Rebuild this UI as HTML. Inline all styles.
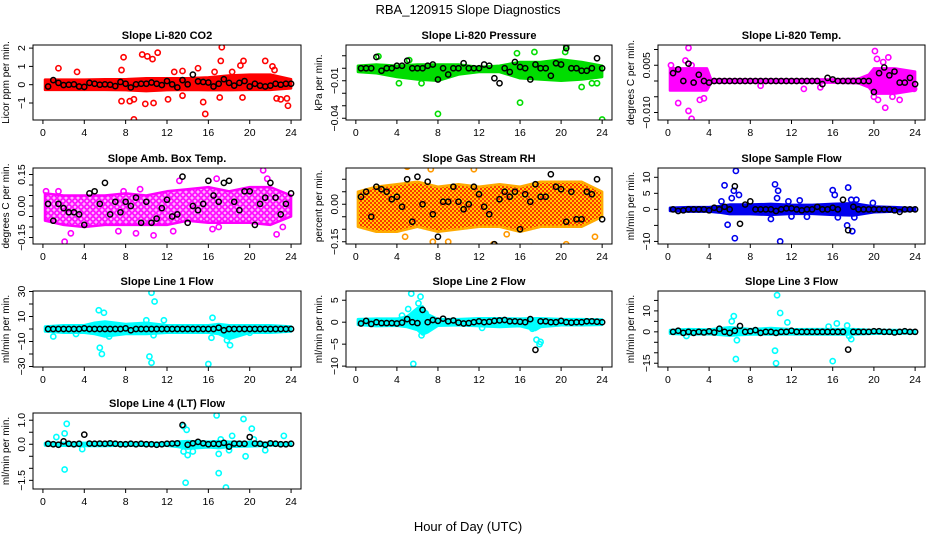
<!DOCTYPE html>
<html><head><meta charset="utf-8"><style>
html,body{margin:0;padding:0;background:#fff;}
svg{display:block;font-family:"Liberation Sans",Arial,sans-serif;}
</style></head><body>
<svg id="chart" width="936" height="540" viewBox="0 0 936 540">
<defs>
<pattern id="patAmb" width="6" height="6" patternUnits="userSpaceOnUse">
<rect width="6" height="6" fill="#ffb0ff"/>
<circle cx="3" cy="3" r="2.2" fill="none" stroke="#ff00ff" stroke-width="1.6"/>
</pattern>
<pattern id="patRH" width="4" height="4" patternUnits="userSpaceOnUse">
<rect width="4" height="4" fill="#ffcc00"/>
<rect width="2" height="2" fill="#ff3300"/>
<rect x="2" y="2" width="2" height="2" fill="#ff3300"/>
</pattern>
</defs>
<text x="468" y="14" text-anchor="middle" font-size="13">RBA_120915  Slope Diagnostics</text>
<text x="468" y="531" text-anchor="middle" font-size="13">Hour of Day (UTC)</text>
</svg>
<script>
// ---- data arrays (hours UTC, slope values) ----
const xTicks = [0,4,8,12,16,20,24];
const blackHours = [0.5,1,1.5,2,2.5,3,3.5,4,4.5,5,5.5,6,6.5,7,7.5,8,8.5,9,9.5,10,10.5,11,11.5,12,12.5,13,13.5,14,14.5,15,15.5,16,16.5,17,17.5,18,18.5,19,19.5,20,20.5,21,21.5,22,22.5,23,23.5,24];

const titles = ["Slope Li-820 CO2","Slope Li-820 Pressure","Slope Li-820 Temp.","Slope Amb. Box Temp.","Slope Gas Stream RH","Slope Sample Flow","Slope Line 1 Flow","Slope Line 2 Flow","Slope Line 3 Flow","Slope Line 4 (LT) Flow"];
const yLabels = ["Licor ppm per min.","kPa per min.","degrees C per min.","degrees C per min.","percent per min.","ml/min per min.","ml/min per min.","ml/min per min.","ml/min per min.","ml/min per min."];
const colors = ["#ff0000","#00dd00","#ff00ff","#ff00ff","#ff9900","#0000ee","#00ffff","#00ffff","#00ffff","#00ffff"];
const yLims = [[-1.93,2.17],[-0.0414,0.0186],[-0.01238,0.01143],[-0.181,0.181],[-0.159,0.145],[-10.8,12.9],[-30.4,30.4],[-10.2,7.1],[-16.8,19.5],[-1.86,1.30]];
const yTickVals = [[-1,0,1,2],[-0.04,-0.03,-0.02,-0.01,0,0.01],[-0.01,-0.005,0,0.005,0.01],[-0.15,-0.1,-0.05,0,0.05,0.1,0.15],[-0.15,-0.1,-0.05,0,0.05,0.1],[-10,-5,0,5,10],[-30,-20,-10,0,10,20,30],[-10,-5,0,5],[-15,-10,-5,0,5,10,15],[-1.5,-1,-0.5,0,0.5,1]];
const yTickLabels = [["−1","0","1","2"],["−0.04","","","−0.01","",""],["−0.010","","","0.005",""],["−0.15","","","0.00","","","0.15"],["−0.15","","","0.00","",""],["−10","","0","5","10"],["−30","","−10","","10","","30"],["−10","−5","0","5"],["−15","","","0","","10",""],["−1.5","","","0.0","","1.0"]];

const bandX = [[0.2,2,4,6,8,10,12,14,16,18,20,22,24],[0.2,2,4,6,8,10,12,14,16,18,20,22,24],[0.2,2,3.8,4.2,8,12,16,18.5,19.5,20,22,24],[0.2,2,4,6,8,10,12,14,16,18,20,22,24],[0.2,2,4,6,8,10,12,14,16,18,20,22,24],[0.2,2,4,5,6,8,10,12,14,16,18,20,22,24],[0.2,2,4,5,6,7,8,10,12,14,16,17,18,20,22,24],[0.2,2,4,5,6,6.5,7,8,10,12,14,16,17.5,18,20,22,24],[0.2,2,4,6,8,10,12,14,16,18,20,22,24],[0.2,2,4,6,8,10,12,13,14,16,17,18,20,22,24]];
const bandLo = [[-0.28,-0.28,-0.28,-0.28,-0.3,-0.35,-0.3,-0.28,-0.3,-0.3,-0.28,-0.28,-0.2],[-0.003,-0.004,-0.007,-0.009,-0.01,-0.005,-0.003,-0.003,-0.008,-0.009,-0.01,-0.009,-0.007],[-0.003,-0.003,-0.003,-0.0005,-0.0005,-0.0005,-0.0005,-0.0007,-0.002,-0.004,-0.004,-0.003],[-0.07,-0.09,-0.1,-0.09,-0.09,-0.09,-0.09,-0.07,-0.08,-0.08,-0.08,-0.09,-0.05],[-0.09,-0.11,-0.11,-0.09,-0.11,-0.1,-0.09,-0.09,-0.11,-0.09,-0.09,-0.09,-0.05],[-0.5,-0.7,-0.7,-1,-1.5,-1.5,-1.7,-1.4,-1.4,-1.7,-1.9,-0.9,-0.7,-0.4],[-2,-3,-3,-4,-6,-5,-4,-4,-3,-3,-3,-4,-8,-3,-3,-2],[-0.6,-0.9,-0.8,-1.1,-1.8,-2.8,-2.3,-0.8,-0.7,-0.9,-1.1,-0.9,-1.8,-1.1,-0.7,-0.7,-0.6],[-0.9,-1.3,-1.1,-1.8,-1.3,-1.3,-1.2,-1.3,-1.3,-1.3,-0.9,-0.9,-0.7],[-0.05,-0.06,-0.07,-0.07,-0.05,-0.06,-0.06,-0.11,-0.18,-0.13,-0.16,-0.11,-0.09,-0.05,-0.04]];
const bandHi = [[0.28,0.28,0.28,0.3,0.3,0.35,0.35,0.35,0.4,0.5,0.55,0.55,0.3],[0.002,0.003,0.002,0.003,0.003,0.003,0.001,0.002,0.005,0.005,0.007,0.005,0.002],[0.004,0.004,0.004,0.0005,0.0005,0.0005,0.0005,0.0007,0.002,0.004,0.004,0.003],[0.06,0.05,0.05,0.05,0.06,0.05,0.07,0.08,0.09,0.07,0.09,0.09,0.05],[0.05,0.07,0.08,0.09,0.07,0.08,0.07,0.08,0.07,0.09,0.09,0.09,0.05],[0.5,0.7,0.7,1,1.5,1.5,1.7,1.4,1.4,1.7,1.9,0.9,0.7,0.4],[2,3,3,5,6,5,4,5,3,3,3,4,3,3,3,2],[0.7,0.8,0.8,1.3,3.2,3.6,1.8,0.7,0.7,0.9,0.9,0.8,0.9,0.9,0.7,0.7,0.6],[0.9,1.3,1.1,2.2,1.3,1.8,1.2,1.3,1.3,1.3,0.9,0.9,0.7],[0.05,0.06,0.06,0.07,0.05,0.06,0.06,0.11,0.13,0.11,0.13,0.11,0.09,0.06,0.04]];

const outX = [[1.5,3.3,7.8,7.6,7.6,8.4,8.8,8.8,9.6,10.1,10.6,11.1,9.9,10.7,12.1,12.7,13.5,13.5,15,15.5,15.7,16.6,17.3,17.2,17.1,18.3,19.1,19.4,19.3,21.5,22.2,22.6,23,23.6,23.7,22.4],[8,16,24,2.2,5.2,15.7,17.4,20.4,20.5,22,23,23.5,4.2,6.4],[2,2.3,2,1,1.7,2.3,3.1,3.5,0.3,20.1,20.3,20.9,21.4,21.1,20,20.4,21.8,22.5,23.9,13.2,14.8,9],[2.1,0.3,1.5,2.7,7.3,7.8,9,10.7,12.6,16.4,21.3,21.7,22.6,23.2,13.2,16.8,17,9.4],[5,6.7,7.3,7.5,11.5,13.4,17.1,20.5,22.7,23.9,4.8,9,14.7,23.3],[6.6,5.5,5.8,6.5,6.9,6.2,6.4,10.4,10.7,10.6,10.9,11.7,12.8,16,16.2,17.5,17.4,17.8,18.3,18.1,17.9,19.9,10,12,13.5,16.5,5.2],[5.4,5.9,5.5,5.7,10.5,10.8,10.3,10.5,16,16.4,16.3,17.8,18.1,11.7,6.4,1,10,10.7,3.2,20],[5.4,6.3,6.1,5.6,5.1,6.4,18,17.9,17.6,6.8,4.5,12.3,17.2],[10.6,10.9,10.4,10.5,6.2,6.4,6.6,6.7,16,16.4,17.4,17.6,17.8,11.6,1.8,15.6],[2.3,2.1,1.3,2.1,13.6,13.9,13.8,14,13.6,14.5,16.8,17,17,17.7,17.2,19.4,19.6,20.2,20.4,21.5,23.3,3.8,18.3,18]];
const outY = [[0.9,0.7,1.5,0.8,-0.9,-0.9,-0.8,-1.9,1.65,1.55,1.4,1.75,-1.05,-1.0,-0.8,0.7,0.75,-0.6,0.9,-0.95,-1.6,0.7,2.05,1.3,-0.7,0.7,1.05,1.3,-0.7,1.3,1.0,-0.75,-0.8,-0.75,-1.15,0.8],[-0.0365,-0.0275,-0.041,0.0095,0.0065,0.012,0.013,0.013,0.018,-0.015,-0.012,-0.012,-0.012,-0.012],[0.0105,-0.012,-0.0095,-0.007,0.0065,0.005,-0.006,-0.0055,0.005,0.0095,0.007,0.006,0.0075,-0.0085,-0.005,-0.006,-0.005,-0.006,-0.0025,-0.0025,-0.002,-0.0015],[-0.17,0.07,0.07,-0.13,-0.12,0.07,-0.13,-0.14,-0.12,-0.11,0.17,0.13,-0.135,-0.1,0.12,0.13,-0.1,0.08],[0.15,0.16,0.14,-0.15,0.14,-0.16,-0.17,-0.16,0.17,-0.18,-0.13,-0.15,-0.12,-0.13],[12,7.5,-4.8,-9,4.5,3.5,5.8,7.8,5.8,3.5,-10,2.5,2.8,6,4.5,6.8,-5,3,3,-2.5,-6.8,2,-3,-2.2,-2.3,-2.5,2.5],[15,13,-15,-20,29,22,-22,-27,-28,9,-7,-9,-13,7,-6,-6,7,-5,-4,-3],[6.5,5.8,4.3,-9.5,3,-3,-4.5,-5,-4,2,1.5,-1.3,-1.5],[17.5,9,-9,-15,5,7.5,-13,-4,-14,4,3,-2,-3.5,4.5,-2,2.5],[0.85,0.45,0.3,-1.05,0.75,0.6,-1.6,-0.45,-0.3,-0.3,1.2,-0.4,-1.2,-1.8,0.2,1.05,-0.5,0.65,0.2,-0.25,0.35,-0.2,0.35,-0.25]];

const blackY = [
[-0.1,0.25,0.1,-0.02,0,0.02,-0.1,-0.12,0.1,0.05,0,0.02,0,-0.08,0.15,0.05,-0.15,0.02,0.05,0.05,0.12,0.05,-0.02,0.2,0.02,-0.15,0.25,0.02,0.55,0.18,0.15,0.12,-0.1,0.05,0.3,0.1,-0.05,0.1,0.2,-0.1,0.05,-0.05,-0.1,-0.05,0.05,0,0.05,0.05],
[0,0,0,0.009,-0.002,0,0,0.002,0.002,0.006,0,0,0,0.002,0.003,-0.009,0,-0.005,0,0,0.004,0,0,0,0.003,0.002,-0.008,-0.012,0,-0.003,0.005,0.001,0,-0.009,0.003,0,0,-0.006,0.004,0.003,0.016,0,0,-0.002,-0.002,0,0.008,0],
[0.0025,0.0037,0,0.0055,-0.0005,0.002,0,-0.0005,0,0,0,0,0,0,0,0,0,0,0,0,0,0,0,0,0,0,0,0,0,-0.001,0.001,0.0005,0,0,0,0,0,0,0,-0.0035,0.0025,0.0043,0.0018,0.003,-0.0005,-0.0005,0.001,-0.001],
[0.01,-0.07,0.01,-0.01,-0.03,-0.03,-0.04,-0.09,0.06,0.07,0.01,0.11,-0.04,0.02,-0.03,0.02,0,0.04,-0.08,0.02,-0.08,-0.06,-0.01,0.03,-0.05,-0.04,0.14,-0.08,0,-0.02,0.01,0.12,0.05,0.02,0.11,0.12,0.02,-0.02,0.07,0.07,-0.09,0.01,0.04,0.11,0.04,-0.04,0.01,0.06],
[0.03,0.05,-0.05,0.07,0.06,0.05,0.02,0.03,-0.01,0.1,-0.07,0.11,0,0.09,-0.04,-0.13,0.01,0.01,0.07,0.01,-0.02,0,0.07,0.04,-0.01,-0.04,-0.16,0.02,0.05,0.03,0.05,-0.1,0.04,0.01,0.08,0.03,0.03,0.12,0.07,0.06,-0.07,0.05,-0.06,-0.06,0.05,0.04,0.1,-0.06],
[0,-0.5,-0.3,0,0,0,0,-0.3,0.5,0,0.8,0,7.2,-4.5,1.5,2.5,0,0,0,0,-0.5,0,0.3,0.3,0,-0.3,0,0,0.8,0,0,0.5,0,3,-6.5,0.8,0,0,0,0,0,0,0,-0.3,-0.8,0,0,0],
[0,0,0,0,0,0,0,0.5,0,0,0,0,0,0,0,0.5,-1,0,0,0,0,0,0,0,0,0,0,0,0,0,0,0,0,1,-1,0,0,0,0,0,0,0,0,0,0,0,0,0],
[-0.3,0.3,-0.4,0,-0.2,-0.2,-0.2,-0.3,-0.1,0.7,0,-0.2,2.8,0,0.5,0.3,0.8,0.2,0.4,-0.1,-0.3,-0.2,0,0.2,0,0.1,0.3,0.4,0.5,0.2,0.2,0.1,0,0.7,-6.3,0.2,0.2,0,0,0.3,0,-0.1,0,0,0.2,0.2,0.1,0],
[0,0.5,-0.5,0,-0.5,0,-0.3,0.2,-0.3,1.5,0,-0.5,0.5,2.8,0,0.3,0.8,-0.5,0,0,-0.5,0,0,0.5,0,0,0,0,0,0,0,0,0,0,-8.5,0,0,0,0,0.3,0.3,0,0,-0.3,0,0.3,0,0],
[0.02,0,-0.02,0.12,0.02,0,0.02,0.4,0.03,0.02,0.03,0.02,0.04,0.02,0,0,0.02,0,0.02,0,0,-0.02,0,0.02,0.03,0.04,0.8,-0.02,0.04,0.1,0.04,0,0.02,0.01,0.06,-0.1,0.03,0.02,0.02,0.3,0.03,0.02,-0.02,0.04,0.02,0,0,0.02]
];

// ---- layout ----
const colX = [[33,301],[346,612],[658,925]];
const rowY = [[45,120],[168,244],[291,367],[413,489]];
const XMIN = -0.96, XMAX = 24.96;
const NS = "http://www.w3.org/2000/svg";
const svg = document.getElementById('chart');

function mk(tag, attrs, parent){
  const e = document.createElementNS(NS, tag);
  for (const k in attrs) e.setAttribute(k, attrs[k]);
  (parent||svg).appendChild(e);
  return e;
}
function fmt(v){ return v.toFixed(2); }

for (let p = 0; p < 10; p++) {
  const L = colX[p%3][0], R = colX[p%3][1], T = rowY[Math.floor(p/3)][0], B = rowY[Math.floor(p/3)][1];
  const [y0, y1] = yLims[p];
  const xs = h => L + (h - XMIN) / (XMAX - XMIN) * (R - L);
  const ys = v => B - (v - y0) / (y1 - y0) * (B - T);

  const g = mk('g', {});
  
  

  const cid = 'clip' + p;
  const cp = mk('clipPath', {id: cid}, g);
  mk('rect', {x: L, y: T, width: R-L, height: B-T}, cp);

  const plot = mk('g', {'clip-path': 'url(#' + cid + ')'}, g);
  
  

  const bx = bandX[p], lo = bandLo[p], hi = bandHi[p];
  let d = '';
  for (let i = 0; i < bx.length; i++) d += (i ? 'L' : 'M') + fmt(xs(bx[i])) + ',' + fmt(ys(hi[i]));
  for (let i = bx.length-1; i >= 0; i--) d += 'L' + fmt(xs(bx[i])) + ',' + fmt(ys(lo[i]));
  d += 'Z';
  let fill = colors[p], stroke = colors[p];
  if (p === 3) { fill = 'url(#patAmb)'; }
  if (p === 4) { fill = 'url(#patRH)'; stroke = '#ffaa00'; }
  const band = mk('path', {d: d, fill: fill, stroke: stroke, 'stroke-width': 2.5, 'stroke-linejoin': 'round'}, plot);
  
  

  for (let i = 0; i < outX[p].length; i++) {
    const c = mk('circle', {cx: fmt(xs(outX[p][i])), cy: fmt(ys(outY[p][i])), r: 2.6, fill: 'none', stroke: colors[p], 'stroke-width': 1.6}, plot);
    
    
  }
  for (let i = 0; i < blackHours.length; i++) {
    const c = mk('circle', {cx: fmt(xs(blackHours[i])), cy: fmt(ys(blackY[p][i])), r: 2.6, fill: 'none', stroke: '#000', 'stroke-width': 1.5}, plot);
    
    
  }

  const fr = mk('rect', {x: L, y: T, width: R-L, height: B-T, fill: 'none', stroke: '#000', 'stroke-width': 1}, g);
  
  

  const xa = mk('g', {}, g);
  
  
  mk('line', {x1: xs(xTicks[0]), x2: xs(xTicks[xTicks.length-1]), y1: B, y2: B, stroke: '#000'}, xa);
  for (const t of xTicks) {
    mk('line', {x1: xs(t), x2: xs(t), y1: B, y2: B+4, stroke: '#000'}, xa);
    const tx = mk('text', {x: xs(t), y: B+16, 'text-anchor': 'middle', 'font-size': 10.5}, xa);
    
    
    tx.textContent = t;
  }
  const ya = mk('g', {}, g);
  
  
  const tv = yTickVals[p];
  mk('line', {x1: L, x2: L, y1: ys(tv[0]), y2: ys(tv[tv.length-1]), stroke: '#000'}, ya);
  for (let i = 0; i < tv.length; i++) {
    const yy = ys(tv[i]);
    mk('line', {x1: L-4, x2: L, y1: yy, y2: yy, stroke: '#000'}, ya);
    if (yTickLabels[p][i]) {
      const tx = mk('text', {x: L-8, y: yy, 'text-anchor': 'middle', 'font-size': 10.5, transform: 'rotate(-90 ' + (L-8) + ' ' + yy + ')'}, ya);
      
      
      tx.textContent = yTickLabels[p][i];
    }
  }
  const cy = (T+B)/2;
  const yl = mk('text', {x: L-24, y: cy, 'text-anchor': 'middle', 'font-size': 10, transform: 'rotate(-90 ' + (L-24) + ' ' + cy + ')'}, g);
  
  
  yl.textContent = yLabels[p];

  const tt = mk('text', {x: (L+R)/2, y: T-6, 'text-anchor': 'middle', 'font-size': 11, 'font-weight': 'bold'}, g);
  
  
  tt.textContent = titles[p];
}
</script>
</body></html>
